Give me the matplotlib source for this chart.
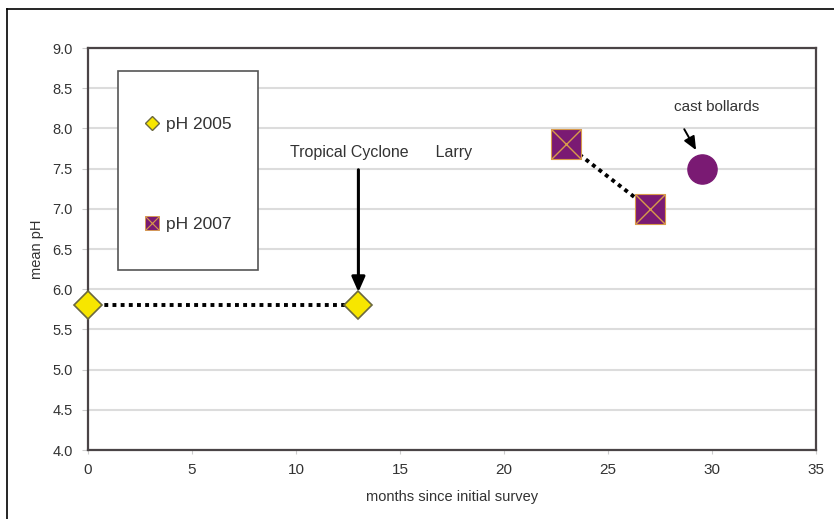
import matplotlib
matplotlib.use('Agg')
import matplotlib.pyplot as plt
from matplotlib.lines import Line2D
from matplotlib.patches import Rectangle

plt.rcParams['font.family'] = ['Liberation Sans', 'DejaVu Sans']

# data
months_2005 = [0, 13]
ph_2005 = [5.8, 5.8]
months_2007 = [23, 27]
ph_2007 = [7.8, 7.0]
bollard_month = [29.5]
bollard_ph = [7.5]

x_ticks = [0, 5, 10, 15, 20, 25, 30, 35]
y_ticks = [4.0, 4.5, 5.0, 5.5, 6.0, 6.5, 7.0, 7.5, 8.0, 8.5, 9.0]

yellow = '#f7e600'
purple = '#7a1a73'
tan = '#d89a4a'
txt = '#333333'

fig = plt.figure(figsize=(8.34, 5.19), dpi=100)
ax = fig.add_axes([88/834, 1-450/519, (816-88)/834, (450-48)/519])

ax.set_xlim(0, 35)
ax.set_ylim(4.0, 9.0)
ax.set_xticks(x_ticks)
ax.set_yticks(y_ticks)
ax.set_yticklabels(['%.1f' % v for v in y_ticks])
ax.yaxis.grid(True, color='#dcdcdc', lw=1.5, zorder=0)
ax.set_axisbelow(True)
for s in ax.spines.values():
    s.set_color('#4a4446')
    s.set_linewidth(1.6)
ax.tick_params(axis='y', length=4, color='#cccccc', labelsize=10.5, labelcolor=txt, pad=7)
ax.tick_params(axis='x', length=3, color='#cccccc', labelsize=11, labelcolor=txt, pad=6)

ax.set_xlabel('months since initial survey', fontsize=10.5, color=txt, labelpad=10)
ax.set_ylabel('mean pH', fontsize=10.5, color=txt, labelpad=6)

# 2005 series
ax.plot(months_2005, ph_2005, color='black', lw=2.8, dashes=(1, 1.1), zorder=3)
ax.plot(months_2005, ph_2005, ls='none', marker='D', ms=14, mfc=yellow,
        mec='#6b6840', mew=1.2, zorder=5, clip_on=False)

# 2007 series
ax.plot(months_2007, ph_2007, color='black', lw=2.8, dashes=(1, 1.1), zorder=3)
ax.plot(months_2007, ph_2007, ls='none', marker='s', ms=21, mfc=purple,
        mec=tan, mew=0.8, zorder=4)
ax.plot(months_2007, ph_2007, ls='none', marker='x', ms=21, mec=tan,
        mew=1.0, zorder=4)

# cast bollards
ax.plot(bollard_month, bollard_ph, ls='none', marker='o', ms=21, mfc=purple,
        mec=purple, zorder=4)

ax.annotate('', xy=(13, 5.93), xytext=(13, 7.52),
            arrowprops=dict(arrowstyle='-|>,head_length=0.9,head_width=0.4',
                            color='black', lw=2.2), zorder=6)
ax.text(14.1, 7.7, 'Tropical Cyclone      Larry', fontsize=11.5, color=txt,
        ha='center', va='center')

ax.annotate('', xy=(29.3, 7.7), xytext=(28.6, 8.02),
            arrowprops=dict(arrowstyle='-|>,head_length=0.8,head_width=0.35',
                            color='black', lw=1.4))
ax.text(30.2, 8.27, 'cast bollards', fontsize=11, color=txt, ha='center', va='center')

# legend box
bx0, bx1 = (118-88)/728, (258-88)/728
by0, by1 = (450-270)/402, (450-71)/402
ax.add_patch(Rectangle((bx0, by0), bx1-bx0, by1-by0, transform=ax.transAxes,
                       facecolor='white', edgecolor='#555555', lw=1.2, zorder=7))
h05 = Line2D([], [], ls='none', marker='D', ms=7, mfc=yellow, mec='#6b6840', mew=1)
h07s = Line2D([], [], ls='none', marker='s', ms=10, mfc=purple, mec=tan, mew=0.6)
h07x = Line2D([], [], ls='none', marker='x', ms=10, mec=tan, mew=0.8)
leg = ax.legend([h05, (h07s, h07x)], ['pH 2005', 'pH 2007'],
                loc='center', bbox_to_anchor=(bx0, by0 - 0.01, bx1-bx0, by1-by0),
                bbox_transform=ax.transAxes, frameon=False, fontsize=12.5,
                labelspacing=4.9, handlelength=0.8, handletextpad=0.4,
                labelcolor=txt)
leg.set_zorder(8)

# outer frame lines (left and top)
fig.add_artist(Line2D([7/834, 7/834], [0, 1-9/519], color='black', lw=1.2))
fig.add_artist(Line2D([7/834, 1], [1-9/519, 1-9/519], color='black', lw=1.2))

fig.savefig('out.png', dpi=100)
